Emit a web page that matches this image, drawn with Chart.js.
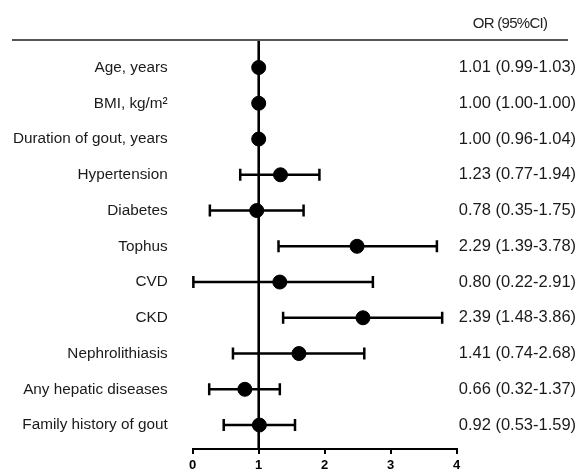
<!DOCTYPE html>
<html>
<head>
<meta charset="utf-8">
<script src="https://cdn.jsdelivr.net/npm/chart.js@4.4.1/dist/chart.umd.min.js"></script>
<style>
  html, body { margin: 0; padding: 0; background: #fff; }
</style>
</head>
<body>
<canvas id="forest" width="581" height="470"></canvas>
<script>
// row labels, top to bottom
const factors = [
  "Age, years",
  "BMI, kg/m\u00B2",
  "Duration of gout, years",
  "Hypertension",
  "Diabetes",
  "Tophus",
  "CVD",
  "CKD",
  "Nephrolithiasis",
  "Any hepatic diseases",
  "Family history of gout"
];

// positions as drawn in the figure
const orPoint = [1.00, 1.00, 1.00, 1.33, 0.97, 2.49, 1.32, 2.58, 1.61, 0.79, 1.01];
const ciLow   = [1.00, 1.00, 1.00, 0.72, 0.26, 1.30, 0.01, 1.37, 0.61, 0.25, 0.47];
const ciHigh  = [1.00, 1.00, 1.00, 1.92, 1.68, 3.70, 2.73, 3.78, 2.60, 1.32, 1.55];

// printed text column
const orText = [
  "1.01 (0.99-1.03)",
  "1.00 (1.00-1.00)",
  "1.00 (0.96-1.04)",
  "1.23 (0.77-1.94)",
  "0.78 (0.35-1.75)",
  "2.29 (1.39-3.78)",
  "0.80 (0.22-2.91)",
  "2.39 (1.48-3.86)",
  "1.41 (0.74-2.68)",
  "0.66 (0.32-1.37)",
  "0.92 (0.53-1.59)"
];

const xTicks = [0, 1, 2, 3, 4];
const refLine = 1;
const headerText = "OR (95%CI)";

const rowMin = -0.77;
const rowMax = 10.67;

// reference line, whiskers, header + top rule
const forestPlugin = {
  id: "forest",
  beforeDatasetsDraw(chart) {
    const ctx = chart.ctx;
    const x = chart.scales.x;
    const y = chart.scales.y;
    const area = chart.chartArea;
    ctx.save();
    ctx.strokeStyle = "#000";
    ctx.lineWidth = 2.6;
    ctx.beginPath();
    const rx = x.getPixelForValue(refLine);
    ctx.moveTo(rx, area.top);
    ctx.lineTo(rx, area.bottom);
    ctx.stroke();

    ctx.lineWidth = 2.5;
    factors.forEach((f, i) => {
      if (ciHigh[i] - ciLow[i] < 0.05) return;
      const py = y.getPixelForValue(i);
      const x1 = x.getPixelForValue(ciLow[i]);
      const x2 = x.getPixelForValue(ciHigh[i]);
      ctx.beginPath();
      ctx.moveTo(x1, py);
      ctx.lineTo(x2, py);
      ctx.moveTo(x1, py - 6);
      ctx.lineTo(x1, py + 6);
      ctx.moveTo(x2, py - 6);
      ctx.lineTo(x2, py + 6);
      ctx.stroke();
    });
    ctx.restore();
  },
  afterDraw(chart) {
    const ctx = chart.ctx;
    const area = chart.chartArea;
    ctx.save();
    ctx.strokeStyle = "#555";
    ctx.lineWidth = 2;
    ctx.beginPath();
    ctx.moveTo(12, area.top);
    ctx.lineTo(568, area.top);
    ctx.stroke();

    ctx.fillStyle = "#222";
    ctx.font = "15px 'Liberation Sans', Arial, sans-serif";
    ctx.letterSpacing = "-0.7px";
    ctx.textAlign = "center";
    ctx.textBaseline = "middle";
    ctx.fillText(headerText, 510, 24);
    ctx.restore();
  }
};

const rowTicks = scale => {
  scale.ticks = factors.map((f, i) => ({ value: i }));
};

// fixed widths, no extra label padding above/below the plot
const fitRows = w => scale => {
  scale.width = w;
  scale.paddingTop = 0;
  scale.paddingBottom = 0;
};

new Chart(document.getElementById("forest"), {
  type: "scatter",
  data: {
    datasets: [{
      data: orPoint.map((v, i) => ({ x: v, y: i })),
      backgroundColor: "#000",
      borderColor: "#000",
      pointRadius: 7,
      pointHoverRadius: 7,
      clip: false
    }]
  },
  options: {
    responsive: false,
    animation: false,
    events: [],
    layout: { padding: { top: 40, left: 0, right: 0, bottom: 0 } },
    plugins: {
      legend: { display: false },
      tooltip: { enabled: false }
    },
    scales: {
      x: {
        type: "linear",
        min: 0,
        max: 4,
        afterBuildTicks: scale => { scale.ticks = xTicks.map(v => ({ value: v })); },
        afterFit: scale => {
          scale.height = 21;
          scale.paddingLeft = 0;
          scale.paddingRight = 0;
        },
        grid: {
          drawOnChartArea: false,
          drawTicks: true,
          tickLength: 5,
          color: "#000",
          lineWidth: 2
        },
        border: { display: true, color: "#000", width: 2 },
        ticks: {
          color: "#000",
          padding: 4,
          font: { family: "'Liberation Sans', Arial, sans-serif", size: 13, weight: "bold" }
        }
      },
      y: {
        type: "linear",
        position: "left",
        reverse: true,
        min: rowMin,
        max: rowMax,
        afterBuildTicks: rowTicks,
        afterFit: fitRows(192.7),
        grid: { display: false, drawTicks: false },
        border: { display: false },
        ticks: {
          color: "#1a1a1a",
          padding: 25,
          callback: v => factors[v],
          font: { family: "'Liberation Sans', Arial, sans-serif", size: 15.3 }
        }
      },
      yRight: {
        type: "linear",
        position: "right",
        reverse: true,
        min: rowMin,
        max: rowMax,
        afterBuildTicks: rowTicks,
        afterFit: fitRows(124.3),
        grid: { display: false, drawTicks: false },
        border: { display: false },
        ticks: {
          color: "#1a1a1a",
          padding: 2,
          callback: v => orText[v],
          font: { family: "'Liberation Sans', Arial, sans-serif", size: 16.5 }
        }
      }
    }
  },
  plugins: [forestPlugin]
});
</script>
</body>
</html>
